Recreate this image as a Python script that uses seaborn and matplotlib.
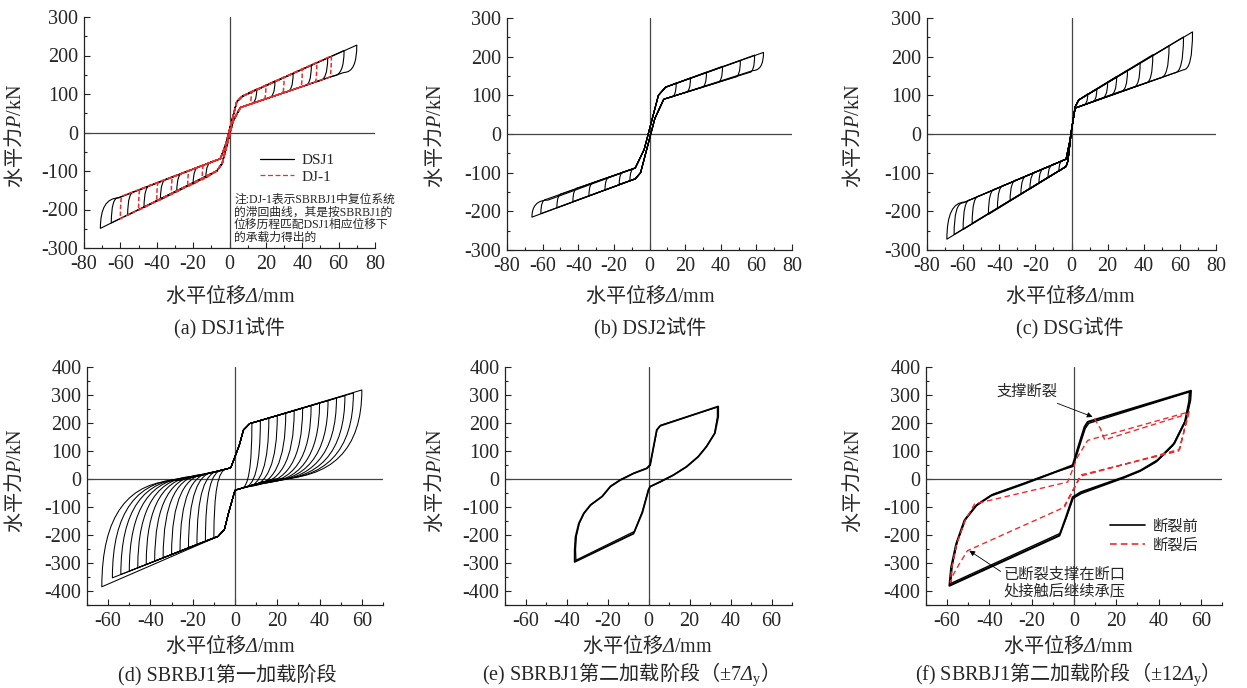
import matplotlib
matplotlib.use("Agg")
import matplotlib.pyplot as plt
import seaborn as sns
from matplotlib.path import Path
from matplotlib.patches import PathPatch
from matplotlib.lines import Line2D
from matplotlib.ticker import MultipleLocator

# ---------------- data (mm, kN) ----------------
# (a) DSJ1 : flag shaped loops, black = DSJ1, red = DJ-1
a_load_pos_x = [-5, -2, 4, 7]
a_load_pos_y = [-68, -30, 80, 94]
a_load_neg_x = [6, 2, -4, -7]
a_load_neg_y = [65, 30, -80, -100]
a_blk_pos_amp = [15, 25, 35, 45, 54, 63, 70]
a_blk_pos_peak = [113, 134, 154, 175, 194, 213, 227]
a_blk_pos_endx = [11, 21, 31, 41, 49, 57, 63]
a_blk_pos_endy = [73, 89, 105, 121, 134, 147, 156]
a_blk_neg_amp = [-13, -20, -29, -38, -47, -56, -65, -71]
a_blk_neg_peak = [-118, -134, -154, -175, -195, -215, -235, -249]
a_blk_neg_endx = [-9, -16, -25, -34, -43, -52, -61, -61]
a_blk_neg_endy = [-75, -88, -104, -120, -136, -153, -169, -170]
a_red_pos_amp = [12, 20, 30, 40, 48, 56]
a_red_pos_peak = [107, 123, 144, 165, 182, 199]
a_red_pos_endx = [11, 19, 29, 39, 47, 55]
a_red_pos_endy = [73, 86, 102, 118, 131, 144]
a_red_neg_amp = [-15, -23, -32, -40, -50, -60]
a_red_neg_peak = [-123, -141, -161, -179, -202, -224]
a_red_neg_endx = [-14, -22, -31, -39, -49, -59]
a_red_neg_endy = [-84, -99, -115, -129, -147, -165]

# (b) DSJ2
b_load_pos_x = [-8, -3, 5, 9]
b_load_pos_y = [-88, -40, 100, 121]
b_load_neg_x = [8, 3, -5, -8]
b_load_neg_y = [90, 40, -100, -116]
b_pos_amp = [15, 23, 32, 41, 51, 59, 64]
b_pos_peak = [132, 145, 160, 175, 190, 204, 211]
b_pos_endx = [12, 20, 29, 38, 48, 56, 58]
b_pos_endy = [95, 107, 120, 133, 147, 159, 164]
b_neg_amp = [-11, -17, -25, -34, -43, -52, -61, -66]
b_neg_peak = [-121, -130, -145, -160, -175, -191, -206, -215]
b_neg_endx = [-8, -14, -22, -31, -40, -49, -58, -57]
b_neg_endy = [-88, -97, -111, -125, -139, -154, -169, -171]

# (c) DSG
c_load_pos_x = [-3, -1, 2, 4]
c_load_pos_y = [-65, -20, 70, 88]
c_load_neg_x = [2, 0, -2, -3]
c_load_neg_y = [67, 10, -70, -84]
c_pos_amp = [9, 14, 20, 25, 31, 38, 45, 54, 62, 67]
c_pos_peak = [104, 117, 133, 149, 165, 184, 205, 228, 251, 264]
c_pos_endx = [6, 11, 16, 21, 27, 34, 41, 49, 57, 62]
c_pos_endy = [74, 82, 91, 100, 110, 121, 132, 145, 158, 166]
c_neg_amp = [-7, -13, -18, -23, -28, -34, -41, -46, -55, -60, -65, -69]
c_neg_peak = [-97, -113, -126, -142, -155, -173, -192, -208, -231, -247, -260, -272]
c_neg_endx = [-4, -9, -14, -19, -24, -30, -37, -42, -51, -56, -60, -59]
c_neg_endy = [-67, -77, -87, -97, -107, -118, -132, -142, -160, -170, -178, -176]

# (d) SBRBJ1 first loading stage
d_load_pos_x = [-2, 2, 4, 7]
d_load_pos_y = [40, 120, 175, 198]
d_load_neg_x = [0, -3, -5, -8]
d_load_neg_y = [-40, -120, -180, -205]
d_pos_amp = [8, 12, 16, 20, 24, 28, 32, 36, 40, 44, 48, 52, 56, 60]
d_pos_peak = [200, 208, 217, 226, 235, 244, 253, 262, 271, 280, 289, 298, 307, 318]
d_pos_endx = [3, 4, 5, 6, 7, 8, 10, 11, 12, 13, 14, 16, 17, 18]
d_pos_endy = [-33, -31, -29, -27, -25, -22, -18, -16, -14, -11, -9, -5, -3, 0]
d_neg_amp = [-10, -14, -18, -22, -26, -30, -34, -38, -42, -46, -50, -54, -58, -63]
d_neg_peak = [-209, -221, -233, -245, -257, -269, -281, -293, -305, -317, -329, -341, -353, -385]
d_neg_endx = [-4, -6, -7, -9, -10, -12, -14, -15, -17, -18, -20, -22, -23, -26]
d_neg_endy = [35, 31, 29, 26, 24, 20, 17, 15, 11, 10, 6, 2, 1, -5]

# (e) SBRBJ1 second stage, +-7 Dy (two near identical cycles)
e_x1 = [0.8, 4.0, 5.7, 34, 34, 32.4, 28.3, 24.3, 18.6, 12.1, 5.7, 0.8, 0, -3, -7.3, -36, -36, -35.6,
        -34, -31.6, -28.3, -22.7, -18.6, -13.8, -7.3, -0.8, 0.8]
e_y1 = [50, 175, 190, 259, 223, 164, 116, 80, 44, 14, -10, -27, -39, -120, -195, -296, -254, -207,
        -159, -123, -93, -63, -27, -4, 20, 38, 50]
e_x2 = [0.8, 4.2, 6.0, 33.6, 33.6, 32.2, 28.1, 24.0, 18.4, 12.0, 5.6, 0.7, 0, -3, -6.8, -35.4, -35.6,
        -35.2, -33.7, -31.3, -28.0, -22.4, -18.4, -13.6, -7.1, -0.7, 0.8]
e_y2 = [52, 176, 192, 257, 221, 162, 114, 78, 43, 13, -11, -28, -38, -116, -187, -290, -252, -205,
        -157, -121, -91, -61, -25, -2, 21, 39, 52]

# (f) SBRBJ1 second stage, +-12 Dy : before fracture (black) / after fracture (red)
f_blk1_x = [-0.6, 2.5, 5, 6.5, 55.3, 55, 52.9, 47.4, 39.5, 31.6, 23.8, 3.3, -0.6, -3.8, -6.9,
            -58.9, -58.1, -55.7, -51.8, -46.3, -39.2, -23.5, -10.9, -0.6]
f_blk1_y = [49, 126, 186, 204, 315, 282, 210, 127, 67, 31, 7, -47, -65, -137, -202,
            -381, -316, -232, -148, -95, -59, -17, 19, 49]
f_blk2_x = [-0.4, 2.8, 5.3, 7, 54.6, 54.3, 52.3, 46.7, 38.7, 30.8, 23.0, 3.5, -0.4, -3.5, -6.5,
            -58.3, -57.6, -55.2, -51.1, -45.6, -38.2, -22.6, -10.1, -0.4]
f_blk2_y = [45, 122, 180, 199, 311, 277, 203, 119, 60, 26, 2, -52, -69, -135, -194,
            -373, -309, -223, -140, -90, -54, -12, 22, 45]
f_red_x = [9.6, 12.5, 14.5, 54, 50, 3, -4.6, -50.4, -54, -57, -58.5, -57.8, -55.5, -51.5, -47,
           -3, 1.7, 6.5, 54.5, 49.5, 3.5, -4.5]
f_red_y = [216, 180, 140, 233, 106, 10, -101, -256, -300, -340, -369, -315, -232, -148, -89,
           -11, 79, 138, 240, 100, 15, -95]

# latin parts go through mathtext (Liberation Serif), CJK parts are plain text
captions = ["(a) DSJ1试件", "(b) DSJ2试件", "(c) DSG试件", "(d) SBRBJ1第一加载阶段",
            "$\\mathrm{(e)\\ SBRBJ1}$第二加载阶段（$\\mathrm{\\pm7}\\mathsf{\\Delta}_\\mathrm{y}$）",
            "$\\mathrm{(f)\\ SBRBJ1}$第二加载阶段（$\\mathrm{\\pm12}\\mathsf{\\Delta}_\\mathrm{y}$）"]
ylab = "水平力$\\mathsf{P}\\mathrm{/kN}$"
xlab = "水平位移$\\mathsf{\\Delta}\\mathrm{/mm}$"

# ---------------- style ----------------
sns.set_theme(style="ticks")
CJK = "Noto Sans CJK SC"
plt.rcParams["font.family"] = ["Liberation Serif", CJK]
plt.rcParams["mathtext.fontset"] = "custom"
plt.rcParams["mathtext.rm"] = "Liberation Serif"
plt.rcParams["mathtext.it"] = "Liberation Serif:italic"
plt.rcParams["mathtext.sf"] = "Liberation Serif:italic"   # italic greek too
plt.rcParams["axes.unicode_minus"] = False

RED = "#ee2c2c"
W, H = 1247, 688
fig = plt.figure(figsize=(W / 100, H / 100), dpi=100)


def add_ax(l, t, r, b):
    return fig.add_axes([l / W, 1 - b / H, (r - l) / W, (b - t) / H])


def style(ax, xlim, ylim):
    ax.set_xlim(xlim)
    ax.set_ylim(ylim)
    ax.xaxis.set_major_locator(MultipleLocator(20))
    ax.xaxis.set_minor_locator(MultipleLocator(10))
    ax.yaxis.set_major_locator(MultipleLocator(100))
    ax.yaxis.set_minor_locator(MultipleLocator(50))
    ax.tick_params(which="both", direction="in", labelsize=14.5, width=0.8, color="#222222")
    ax.tick_params(which="major", length=4)
    ax.tick_params(which="minor", length=2.5)
    ax.tick_params(axis="x", pad=5)
    ax.tick_params(axis="y", pad=4)
    for s in ["top", "right"]:
        ax.spines[s].set_visible(False)
    for s in ["left", "bottom"]:
        ax.spines[s].set_linewidth(0.9)
        ax.spines[s].set_color("#222222")
    ax.axhline(0, color="#444444", lw=0.9, zorder=1)
    ax.axvline(0, color="#444444", lw=0.9, zorder=1)
    ax.set_facecolor("white")


def half_loops(ax, load_x, load_y, amp, peak, endx, endy, back_x, back_y, **kw):
    # loading path -> peak -> curved unloading -> back along the unloading branch
    for A, P, ex, ey in zip(amp, peak, endx, endy):
        verts = list(zip(load_x, load_y)) + [(A, P), (A, ey), (ex, ey), (back_x, back_y)]
        codes = ([Path.MOVETO] + [Path.LINETO] * (len(load_x) - 1)
                 + [Path.LINETO, Path.CURVE3, Path.CURVE3, Path.LINETO])
        ax.add_patch(PathPatch(Path(verts, codes), fill=False, joinstyle="round", **kw))


def flag_panel(ax, lpx, lpy, lnx, lny, pos, neg, **kw):
    half_loops(ax, lpx, lpy, *pos, lnx[0], lny[0], **kw)
    half_loops(ax, lnx, lny, *neg, lpx[0], lpy[0], **kw)


# ---------------- top row ----------------
ax_a = add_ax(84, 17, 375, 248)
ax_b = add_ax(507, 18, 792, 250)
ax_c = add_ax(927, 18, 1216, 250)
for ax in (ax_a, ax_b, ax_c):
    style(ax, (-80, 80), (-300, 300))

blk = dict(edgecolor="black", lw=0.8, zorder=3)
flag_panel(ax_a, a_load_pos_x, a_load_pos_y, a_load_neg_x, a_load_neg_y,
           (a_blk_pos_amp, a_blk_pos_peak, a_blk_pos_endx, a_blk_pos_endy),
           (a_blk_neg_amp, a_blk_neg_peak, a_blk_neg_endx, a_blk_neg_endy), **blk)
flag_panel(ax_a, a_load_pos_x, a_load_pos_y, a_load_neg_x, a_load_neg_y,
           (a_red_pos_amp, a_red_pos_peak, a_red_pos_endx, a_red_pos_endy),
           (a_red_neg_amp, a_red_neg_peak, a_red_neg_endx, a_red_neg_endy),
           edgecolor=RED, lw=1.1, linestyle=(0, (3, 1.5)), zorder=4)
flag_panel(ax_b, b_load_pos_x, b_load_pos_y, b_load_neg_x, b_load_neg_y,
           (b_pos_amp, b_pos_peak, b_pos_endx, b_pos_endy),
           (b_neg_amp, b_neg_peak, b_neg_endx, b_neg_endy), **blk)
flag_panel(ax_c, c_load_pos_x, c_load_pos_y, c_load_neg_x, c_load_neg_y,
           (c_pos_amp, c_pos_peak, c_pos_endx, c_pos_endy),
           (c_neg_amp, c_neg_peak, c_neg_endx, c_neg_endy), **blk)

ax_a.legend([Line2D([], [], color="black", lw=0.9),
             Line2D([], [], color=RED, lw=0.9, ls=(0, (4, 2)))],
            ["DSJ1", "DJ-1"], loc="upper left", bbox_to_anchor=(0.605, 0.41),
            frameon=False, fontsize=11, handlelength=2.2, handletextpad=0.5,
            labelspacing=0.2, borderpad=0, borderaxespad=0)
ax_a.text(2.5, -158, "注:DJ-1表示SBRBJ1中复位系统\n的滞回曲线，其是按SBRBJ1的\n"
          "位移历程匹配DSJ1相应位移下\n的承载力得出的",
          fontsize=8.5, va="top", ha="left", linespacing=1.1, zorder=6)

# ---------------- bottom row ----------------
ax_d = add_ax(87, 367, 383, 605)
ax_e = add_ax(505, 367, 792, 605)
ax_f = add_ax(926, 367, 1222, 605)
for ax in (ax_d, ax_e, ax_f):
    style(ax, (-70, 70), (-450, 400))

flag_panel(ax_d, d_load_pos_x, d_load_pos_y, d_load_neg_x, d_load_neg_y,
           (d_pos_amp, d_pos_peak, d_pos_endx, d_pos_endy),
           (d_neg_amp, d_neg_peak, d_neg_endx, d_neg_endy),
           edgecolor="black", lw=0.75, zorder=3)

sns.lineplot(x=e_x1, y=e_y1, sort=False, estimator=None, color="black", lw=1.3, ax=ax_e)
sns.lineplot(x=e_x2, y=e_y2, sort=False, estimator=None, color="black", lw=0.9, ax=ax_e)

sns.lineplot(x=f_blk1_x, y=f_blk1_y, sort=False, estimator=None, color="black", lw=1.5, ax=ax_f)
sns.lineplot(x=f_blk2_x, y=f_blk2_y, sort=False, estimator=None, color="black", lw=1.0, ax=ax_f)
sns.lineplot(x=f_red_x, y=f_red_y, sort=False, estimator=None, color=RED, lw=1.0,
             linestyle=(0, (4, 2.5)), ax=ax_f, zorder=4)

ax_f.legend([Line2D([], [], color="black", lw=1.2),
             Line2D([], [], color=RED, lw=1.2, ls=(0, (4, 2.5)))],
            ["断裂前", "断裂后"], loc="upper left", bbox_to_anchor=(0.62, 0.36),
            frameon=False, fontsize=11, handlelength=2.3, handletextpad=0.5,
            labelspacing=0.3, borderpad=0, borderaxespad=0)
ax_f.annotate("支撑断裂", xy=(8.8, 222), xytext=(-22, 311), fontsize=11, ha="center", va="center",
              arrowprops=dict(arrowstyle="-|>", color="black", lw=0.6, mutation_scale=8,
                              shrinkA=2, shrinkB=0))
ax_f.annotate("已断裂支撑在断口\n处接触后继续承压", xy=(-49.5, -256), xytext=(-4.3, -371),
              fontsize=11, ha="center", va="center", linespacing=1.15,
              arrowprops=dict(arrowstyle="-|>", color="black", lw=0.6, mutation_scale=8,
                              shrinkA=0, shrinkB=0, relpos=(0.0, 0.8)))

for ax in (ax_a, ax_b, ax_c, ax_d, ax_e, ax_f):
    ax.set_xlabel("")
    ax.set_ylabel("")

# ---------------- labels and captions ----------------
ylab_pos = [(15, 136), (435, 136), (853, 136), (15, 481), (435, 481), (853, 481)]
xlab_pos = [(230, 295), (650, 295), (1070, 295), (230, 645), (647, 645), (1068, 645)]
cap_pos = [(230, 328), (650, 328), (1070, 328), (227, 675), (625, 674), (1062, 674)]
for (yx, yy), (xx, xy), (cx, cy), cap in zip(ylab_pos, xlab_pos, cap_pos, captions):
    fig.text(yx / W, 1 - yy / H, ylab, rotation=90, ha="center", va="center", fontsize=14.5,
             family=CJK)
    fig.text(xx / W, 1 - xy / H, xlab, ha="center", va="center", fontsize=14.5, family=CJK)
    fam = CJK if "$" in cap else ["Liberation Serif", CJK]
    fig.text(cx / W, 1 - cy / H, cap, ha="center", va="center", fontsize=14.5, family=fam)

fig.savefig("out.png", dpi=100, facecolor="white")
